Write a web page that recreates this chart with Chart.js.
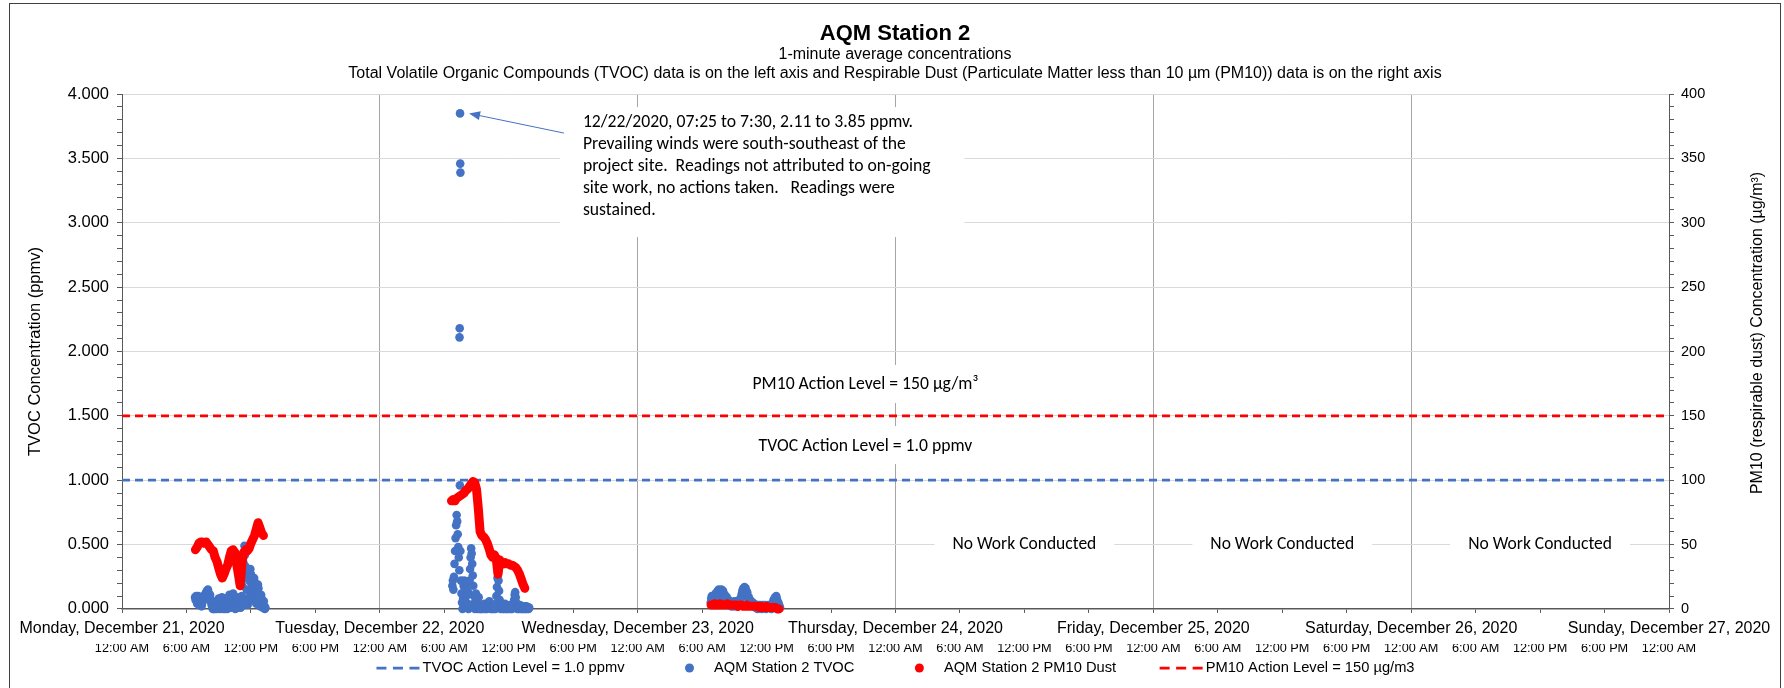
<!DOCTYPE html>
<html>
<head>
<meta charset="utf-8">
<title>AQM Station 2</title>
<script src="https://cdn.jsdelivr.net/npm/chart.js@4.4.0/dist/chart.umd.min.js"></script>
<style>
  html, body { margin: 0; padding: 0; background: #fff; }
  #wrap { position: relative; width: 1784px; height: 688px; }
</style>
</head>
<body>
<div id="wrap"><canvas id="aqmChart"></canvas></div>
<script>
// Tick labels
const dayLabels = [
    'Monday, December 21, 2020', 'Tuesday, December 22, 2020', 'Wednesday, December 23, 2020',
    'Thursday, December 24, 2020', 'Friday, December 25, 2020', 'Saturday, December 26, 2020',
    'Sunday, December 27, 2020'
];
const timeLabels = ['12:00 AM', '6:00 AM', '12:00 PM', '6:00 PM'];

// Action levels
const tvocActionLevel = 1.0;   // ppmv
const pm10ActionLevel = 150;   // µg/m3

// TVOC readings (ppmv), one value every 3 minutes from the start time
const tvocStep = 3;
const tvocDec21Start = '06:48';
const tvocDec21 = [
    0.09, 0.07, 0.10, 0.06, 0.04, 0.08, 0.10, 0.05, 0.03, 0.07, 0.09, 0.05, 0.02,
    0.04, 0.06, 0.08, 0.07, 0.09, 0.11, 0.10, 0.12, 0.13, 0.14, 0.12, 0.15, 0.13, 0.10, 0.08, 0.11,
    0.07, 0.05, 0.03, 0.02, 0.00, 0.01,
    0.00, 0.02, 0.00, 0.04, 0.06, 0.03, 0.00, 0.01, 0.05, 0.08,
    0.06, 0.02, 0.00, 0.03, 0.07, 0.09, 0.05, 0.01, 0.00, 0.04,
    0.02, 0.00, 0.06, 0.08, 0.04, 0.00, 0.02, 0.05, 0.09, 0.11,
    0.08, 0.04, 0.01, 0.03, 0.07, 0.10, 0.12, 0.09, 0.05, 0.02,
    0.00, 0.04, 0.08, 0.06, 0.03, 0.01, 0.05, 0.09, 0.07, 0.03, 0.01, 0.04,
    0.10, 0.18, 0.27, 0.36, 0.44, 0.49, 0.42, 0.33, 0.24, 0.15, 0.08, 0.03,
    0.06, 0.14, 0.22, 0.28, 0.31, 0.27, 0.20, 0.13, 0.07, 0.11,
    0.18, 0.24, 0.21, 0.15, 0.09, 0.04, 0.08, 0.14, 0.19, 0.16,
    0.10, 0.05, 0.02, 0.06, 0.11, 0.08, 0.04, 0.01, 0.03, 0.06, 0.02, 0.00, 0.01
];
const tvocDec22Start = '06:45';
const tvocDec22 = [
    0.18, 0.22, 0.15, 0.25, 0.35, 0.45, 0.55, 0.65, 0.73, 0.68, 0.58, 0.48, 0.40, 0.30,
    0.96,
    0.45, 0.22, 0.12, 0.05, 0.00, 0.08, 0.18, 0.22, 0.15, 0.06,
    0.02, 0.10, 0.20, 0.14, 0.04, 0.00, 0.12, 0.22, 0.31, 0.40,
    0.47, 0.43, 0.35, 0.26, 0.18, 0.10, 0.04, 0.00, 0.06, 0.12,
    0.08, 0.02, 0.00, 0.05, 0.09, 0.03, 0.00,
    0.01, 0.00, 0.02, 0.00, 0.01, 0.03, 0.00, 0.01, 0.04, 0.02,
    0.00, 0.01, 0.00, 0.02, 0.01, 0.03, 0.05, 0.06, 0.04, 0.02,
    0.00, 0.01, 0.00, 0.02, 0.01, 0.00, 0.02, 0.01, 0.00, 0.04,
    0.10, 0.17, 0.24, 0.28, 0.22, 0.14, 0.07, 0.02, 0.00, 0.01,
    0.03, 0.01, 0.00, 0.02, 0.00, 0.01, 0.04, 0.02, 0.00, 0.01,
    0.00, 0.02, 0.01, 0.00, 0.02, 0.03, 0.01, 0.00, 0.01, 0.00,
    0.02, 0.01, 0.03, 0.07, 0.11, 0.13, 0.09, 0.05, 0.01, 0.00,
    0.02, 0.01, 0.00, 0.01, 0.03, 0.01, 0.00, 0.02, 0.00, 0.01,
    0.00, 0.02, 0.01, 0.00, 0.01, 0.00, 0.02, 0.01, 0.00, 0.01,
    0.00, 0.01
];
// sustained readings on 12/22, 1-minute values
const tvocSpikeTimes = ['07:25', '07:26', '07:28', '07:29', '07:30'];
const tvocSpikeValues = [2.11, 2.18, 3.85, 3.46, 3.39];
const tvocDec23Start = '06:48';
const tvocDec23 = [
    0.05, 0.08, 0.10, 0.07, 0.09, 0.06, 0.03, 0.07, 0.10, 0.12,
    0.09, 0.11, 0.13, 0.14, 0.12, 0.15, 0.13, 0.10, 0.14, 0.12,
    0.15, 0.13, 0.11, 0.14, 0.12, 0.09, 0.11, 0.08, 0.10, 0.07,
    0.09, 0.06, 0.04, 0.07, 0.05, 0.03, 0.06, 0.04, 0.02, 0.05,
    0.03, 0.05, 0.02, 0.04, 0.06, 0.03, 0.05, 0.02, 0.04, 0.06,
    0.04, 0.02, 0.05, 0.07, 0.05, 0.06, 0.08, 0.10, 0.12, 0.14,
    0.15, 0.16, 0.14, 0.17, 0.15, 0.16, 0.14, 0.12, 0.13, 0.10,
    0.08, 0.09, 0.06, 0.07, 0.05, 0.06, 0.04, 0.03, 0.05, 0.03,
    0.02, 0.04, 0.03, 0.02, 0.01, 0.03, 0.02, 0.00, 0.02, 0.03,
    0.01, 0.02, 0.03, 0.01, 0.02, 0.00, 0.02, 0.03, 0.01, 0.02,
    0.01, 0.03, 0.02, 0.00, 0.02, 0.01, 0.02, 0.03, 0.01, 0.02,
    0.01, 0.03, 0.02, 0.00, 0.02, 0.04, 0.05, 0.07, 0.06, 0.08,
    0.09, 0.07, 0.10, 0.08, 0.06, 0.04, 0.05, 0.03, 0.02, 0.01
];

// PM10 readings (µg/m3), one value every 10 minutes from the start time
const pm10Step = 10;
const pm10Dec21Start = '06:50';
const pm10Dec21 = [
    46, 48, 51, 52, 52, 51, 52, 50, 48, 46, 45, 40, 37,
    32, 27, 24, 27, 31, 34, 40, 45, 46, 44, 35, 27,
    18, 36, 44, 46, 45, 47, 51, 54, 57, 62, 67, 63, 59, 57
];
const pm10Dec22Start = '06:40';
const pm10Dec22 = [
    84, 85, 84, 86, 87, 88, 89, 90, 92, 93, 95, 97, 99, 98,
    93, 78, 60, 57, 56, 54, 51, 47, 42, 40, 42, 39,
    27, 38, 36, 35, 36, 35, 35, 34, 34, 33, 32, 30, 27, 23, 19, 16
];
const pm10Dec23Start = '06:50';
const pm10Dec23 = [
    3, 3, 4, 3, 3, 4, 3, 3, 3, 4, 3, 3, 3, 3, 3, 2, 3, 3, 2, 2,
    3, 2, 2, 2, 2, 2, 2, 1, 2, 1, 1, 2, 1, 1, 1, 1, 1, 0, 0
];

const axisFont = '"Liberation Sans", Arial, sans-serif';
const noteFont = 'Carlito, Calibri, Lato, sans-serif';
const blue = '#4472C4';
const red = '#FF0000';

// hours since Monday 12/21 00:00
function toHours(day, hhmm) {
    const [h, m] = hhmm.split(':').map(Number);
    return day * 24 + h + m / 60;
}
function series(day, start, step, values) {
    const t0 = toHours(day, start);
    return values.map((v, i) => ({ x: t0 + i * step / 60, y: v }));
}

const tvocPoints = [
    ...series(0, tvocDec21Start, tvocStep, tvocDec21),
    ...series(1, tvocDec22Start, tvocStep, tvocDec22),
    ...tvocSpikeTimes.map((t, i) => ({ x: toHours(1, t), y: tvocSpikeValues[i] })),
    ...series(2, tvocDec23Start, tvocStep, tvocDec23)
];
// null points break the trace between working days
const pm10Points = [
    ...series(0, pm10Dec21Start, pm10Step, pm10Dec21),
    { x: 24, y: null },
    ...series(1, pm10Dec22Start, pm10Step, pm10Dec22),
    { x: 48, y: null },
    ...series(2, pm10Dec23Start, pm10Step, pm10Dec23)
];

// Texts placed on the plot (data coordinates, left axis)
const levelCaptions = [
    { text: 'PM10 Action Level = 150 µg/m³', x: 69.2, y: 1.74 },
    { text: 'TVOC Action Level = 1.0 ppmv', x: 69.2, y: 1.265 }
];
const noWorkDays = [3, 4, 5];
const noteLines = [
    '12/22/2020, 07:25 to 7:30, 2.11 to 3.85 ppmv.',
    'Prevailing winds were south-southeast of the',
    'project site.  Readings not attributed to on-going',
    'site work, no actions taken.   Readings were',
    'sustained.'
];
const noteAnchor = { x: 42.9, y: 3.775 };

// font size that makes a text span the wanted width
function fitFont(ctx, text, width, family) {
    ctx.font = '100px ' + family;
    return 100 * width / ctx.measureText(text).width;
}

const decorPlugin = {
    id: 'aqmDecor',
    afterDatasetsDraw(chart) {
        const { ctx, scales } = chart;
        const xs = scales.x, ys = scales.y;
        ctx.save();
        ctx.textAlign = 'center';
        ctx.textBaseline = 'middle';

        // action level captions
        const capSize = fitFont(ctx, levelCaptions[0].text, 226, noteFont);
        ctx.font = capSize + 'px ' + noteFont;
        levelCaptions.forEach(c => {
            const px = xs.getPixelForValue(c.x), py = ys.getPixelForValue(c.y);
            const w = ctx.measureText(c.text).width;
            ctx.fillStyle = '#fff';
            ctx.fillRect(px - w / 2 - 24, py - 20, w + 48, 38);
            ctx.fillStyle = '#000';
            ctx.fillText(c.text, px, py);
        });

        // no work captions at noon of the idle days
        const nwSize = fitFont(ctx, 'No Work Conducted', 144, noteFont);
        ctx.font = nwSize + 'px ' + noteFont;
        noWorkDays.forEach(d => {
            const px = xs.getPixelForValue(d * 24 + 12), py = ys.getPixelForValue(0.5);
            const w = ctx.measureText('No Work Conducted').width;
            ctx.fillStyle = '#fff';
            ctx.fillRect(px - w / 2 - 18, py - 14, w + 36, 28);
            ctx.fillStyle = '#000';
            ctx.fillText('No Work Conducted', px, py);
        });

        // note box with arrow to the highest reading
        const noteSize = fitFont(ctx, noteLines[2], 348, noteFont);
        ctx.font = noteSize + 'px ' + noteFont;
        const left = xs.getPixelForValue(noteAnchor.x);
        const top = ys.getPixelForValue(noteAnchor.y);
        const lineH = 22;
        let maxW = 0;
        noteLines.forEach(l => { maxW = Math.max(maxW, ctx.measureText(l).width); });
        ctx.fillStyle = '#fff';
        ctx.fillRect(left - 23, top - 16, maxW + 57, lineH * (noteLines.length - 1) + 42);
        ctx.fillStyle = '#000';
        ctx.textAlign = 'left';
        noteLines.forEach((l, i) => ctx.fillText(l, left, top + i * lineH));

        const peak = tvocSpikeValues.indexOf(Math.max(...tvocSpikeValues));
        const tipX = xs.getPixelForValue(toHours(1, tvocSpikeTimes[peak])) + 9;
        const tipY = ys.getPixelForValue(tvocSpikeValues[peak]);
        const tailX = left - 19, tailY = top + 10;
        const ang = Math.atan2(tipY - tailY, tipX - tailX);
        ctx.strokeStyle = blue;
        ctx.fillStyle = blue;
        ctx.lineWidth = 1;
        ctx.beginPath();
        ctx.moveTo(tailX, tailY);
        ctx.lineTo(tipX - 9 * Math.cos(ang), tipY - 9 * Math.sin(ang));
        ctx.stroke();
        ctx.beginPath();
        ctx.moveTo(tipX, tipY);
        ctx.lineTo(tipX - 11 * Math.cos(ang) + 4.5 * Math.sin(ang), tipY - 11 * Math.sin(ang) - 4.5 * Math.cos(ang));
        ctx.lineTo(tipX - 11 * Math.cos(ang) - 4.5 * Math.sin(ang), tipY - 11 * Math.sin(ang) + 4.5 * Math.cos(ang));
        ctx.closePath();
        ctx.fill();
        ctx.restore();
    },
    afterDraw(chart) {
        const { ctx, chartArea } = chart;
        ctx.save();

        // right axis title, reading bottom to top
        ctx.translate(1758, 333);
        ctx.rotate(-Math.PI / 2);
        ctx.font = '16px ' + axisFont;
        ctx.fillStyle = '#000';
        ctx.textAlign = 'center';
        ctx.textBaseline = 'middle';
        ctx.fillText('PM10 (respirable dust) Concentration (µg/m³)', 0, 0);
        ctx.setTransform(1, 0, 0, 1, 0, 0);

        // legend
        ctx.font = '14.7px ' + axisFont;
        const items = chart.data.datasets.map(ds => ({
            label: ds.label, symbol: ds.legendSymbol,
            color: ds.legendSymbol === 'dash' ? ds.borderColor : (ds.pointBackgroundColor || ds.borderColor)
        }));
        const symW = 43, gap = 43.5;
        const widths = items.map(it => symW + 3 + ctx.measureText(it.label).width);
        const total = widths.reduce((a, b) => a + b, 0) + gap * (items.length - 1);
        let cx = (chartArea.left + chartArea.right) / 2 - total / 2;
        const ly = 668;
        ctx.textAlign = 'left';
        items.forEach((it, i) => {
            if (it.symbol === 'dash') {
                ctx.strokeStyle = it.color;
                ctx.lineWidth = 2.75;
                ctx.setLineDash([10, 6.5]);
                ctx.beginPath();
                ctx.moveTo(cx, ly);
                ctx.lineTo(cx + symW, ly);
                ctx.stroke();
                ctx.setLineDash([]);
            } else {
                ctx.fillStyle = it.color;
                ctx.beginPath();
                ctx.arc(cx + symW / 2, ly, 4.5, 0, Math.PI * 2);
                ctx.fill();
            }
            ctx.fillStyle = '#000';
            ctx.fillText(it.label, cx + symW + 3, ly);
            cx += widths[i] + gap;
        });

        // chart border
        ctx.strokeStyle = '#404040';
        ctx.lineWidth = 1;
        ctx.strokeRect(9.5, 3.5, 1771, 700);
        ctx.restore();
    }
};

const isMultiple = (v, step) => Math.abs(v / step - Math.round(v / step)) < 1e-6;

const ctx = document.getElementById('aqmChart').getContext('2d');
const aqmChart = new Chart(ctx, {
    type: 'scatter',
    data: {
        datasets: [
            {
                type: 'line',
                label: 'TVOC Action Level = 1.0 ppmv',
                legendSymbol: 'dash',
                data: [{ x: 0, y: tvocActionLevel }, { x: 144, y: tvocActionLevel }],
                yAxisID: 'y',
                borderColor: blue,
                borderWidth: 2.75,
                borderDash: [8, 5],
                pointRadius: 0,
                order: 2
            },
            {
                label: 'AQM Station 2 TVOC',
                legendSymbol: 'dot',
                data: tvocPoints,
                yAxisID: 'y',
                pointBackgroundColor: blue,
                pointBorderWidth: 0,
                pointRadius: 4.3,
                clip: false,
                order: 1
            },
            {
                type: 'line',
                label: 'AQM Station 2 PM10 Dust',
                legendSymbol: 'dot',
                data: pm10Points,
                yAxisID: 'y1',
                borderColor: red,
                pointBackgroundColor: red,
                borderWidth: 9,
                borderCapStyle: 'round',
                borderJoinStyle: 'round',
                pointRadius: 0,
                spanGaps: false,
                clip: false,
                order: 0
            },
            {
                type: 'line',
                label: 'PM10 Action Level = 150 µg/m3',
                legendSymbol: 'dash',
                data: [{ x: 0, y: pm10ActionLevel }, { x: 144, y: pm10ActionLevel }],
                yAxisID: 'y1',
                borderColor: red,
                borderWidth: 2.75,
                borderDash: [8, 5],
                pointRadius: 0,
                order: 3
            }
        ]
    },
    options: {
        responsive: true,
        maintainAspectRatio: false,
        animation: false,
        layout: { padding: { left: 10, right: 4, top: 0, bottom: 35.2 } },
        plugins: {
            legend: { display: false },
            tooltip: { enabled: false },
            title: {
                display: true,
                text: 'AQM Station 2',
                color: '#000',
                font: { family: axisFont, size: 22, weight: 'bold' },
                padding: { top: 20.4, bottom: -2.3 }
            },
            subtitle: {
                display: true,
                text: [
                    '1-minute average concentrations',
                    'Total Volatile Organic Compounds (TVOC) data is on the left axis and Respirable Dust (Particulate Matter less than 10 µm (PM10)) data is on the right axis'
                ],
                color: '#000',
                font: { family: axisFont, size: 16 },
                padding: { top: 0, bottom: 11.2 }
            }
        },
        scales: {
            x: {
                type: 'linear',
                position: 'bottom',
                weight: 0,
                min: 0,
                max: 144,
                grid: {
                    color: c => (c.tick && isMultiple(c.tick.value, 24)) ? '#a6a6a6' : 'rgba(0,0,0,0)',
                    tickColor: '#595959',
                    tickLength: 4
                },
                border: { color: '#595959', width: 1.5 },
                ticks: {
                    stepSize: 6,
                    autoSkip: false,
                    maxRotation: 0,
                    minRotation: 0,
                    padding: 6,
                    color: '#000',
                    font: { family: axisFont, size: 16 },
                    callback: v => isMultiple(v, 24) ? dayLabels[Math.round(v / 24)] : ''
                }
            },
            xTime: {
                type: 'linear',
                position: 'bottom',
                weight: 1,
                min: 0,
                max: 144,
                grid: { display: false, drawTicks: false },
                border: { display: false },
                ticks: {
                    stepSize: 6,
                    autoSkip: false,
                    maxRotation: 0,
                    minRotation: 0,
                    padding: -2,
                    color: '#000',
                    font: { family: axisFont, size: 12.7, lineHeight: 1 },
                    callback: v => timeLabels[Math.round(v / 6) % 4]
                }
            },
            y: {
                position: 'left',
                min: 0,
                max: 4,
                afterFit: scale => { scale.width = 112; },
                grid: {
                    color: c => (c.tick && c.tick.value > 0 && isMultiple(c.tick.value, 0.5)) ? '#d9d9d9' : 'rgba(0,0,0,0)',
                    tickColor: '#595959',
                    tickLength: 5
                },
                border: { color: '#595959', width: 1 },
                ticks: {
                    stepSize: 0.1,
                    autoSkip: false,
                    padding: 8,
                    color: '#000',
                    font: { family: axisFont, size: 16.5 },
                    callback: v => isMultiple(v, 0.5) ? v.toFixed(3) : ''
                },
                title: {
                    display: true,
                    text: 'TVOC Concentration (ppmv)',
                    color: '#000',
                    font: { family: axisFont, size: 16.5 },
                    padding: { top: 15.2, bottom: 0 }
                }
            },
            y1: {
                position: 'right',
                min: 0,
                max: 400,
                afterFit: scale => { scale.width = 111; },
                grid: {
                    drawOnChartArea: false,
                    tickColor: '#595959',
                    tickLength: 5
                },
                border: { color: '#595959', width: 1 },
                ticks: {
                    stepSize: 10,
                    autoSkip: false,
                    padding: 7,
                    color: '#000',
                    font: { family: axisFont, size: 14.5 },
                    callback: v => isMultiple(v, 50) ? String(Math.round(v)) : ''
                }
            }
        }
    },
    plugins: [decorPlugin]
});
</script>
</body>
</html>
